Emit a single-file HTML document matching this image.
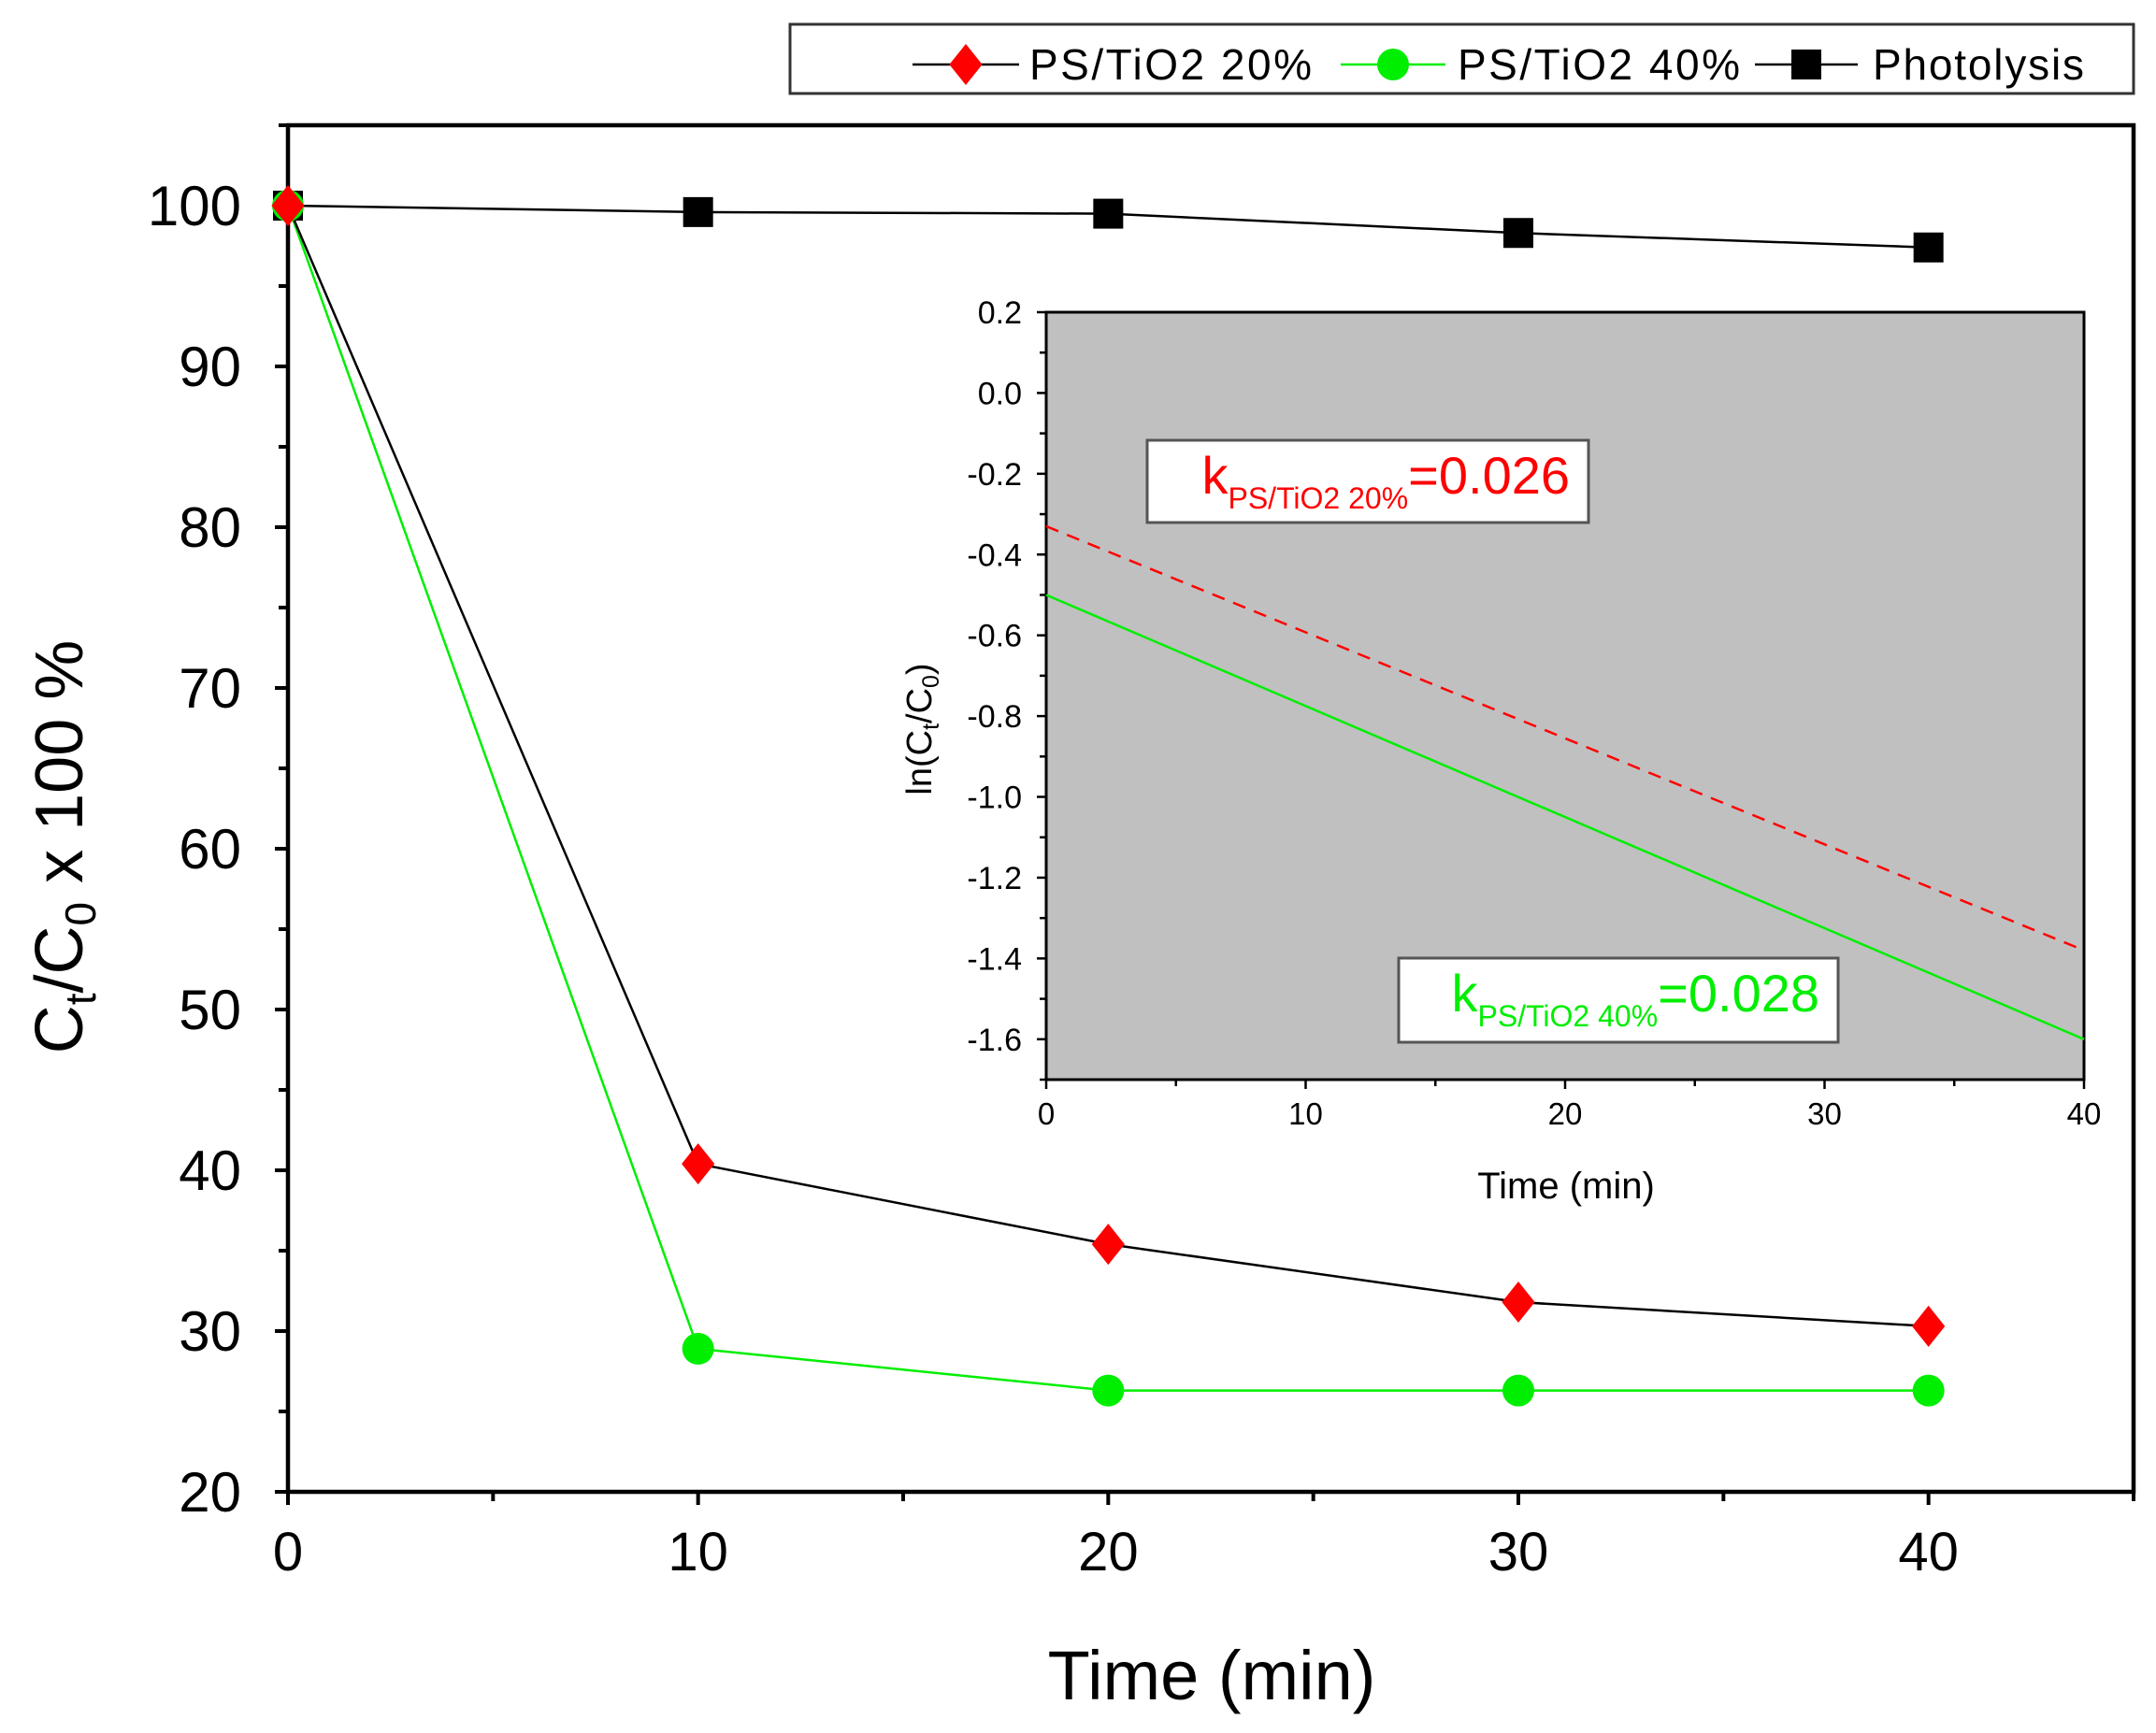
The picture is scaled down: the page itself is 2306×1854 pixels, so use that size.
<!DOCTYPE html>
<html><head><meta charset="utf-8"><style>
html,body{margin:0;padding:0;background:#fff}
svg{display:block;font-family:"Liberation Sans",sans-serif}
</style></head><body>
<svg id="chart" width="2306" height="1854" viewBox="0 0 2306 1854" xmlns="http://www.w3.org/2000/svg">
<g id="main"></g>
<g id="inset"></g>
<g id="legend"></g>
</svg>
<script>
const times = [0, 10, 20, 30, 40];
const ps20 = [100, 40.4, 35.4, 31.8, 30.3];
const ps40 = [100, 28.9, 26.3, 26.3, 26.3];
const photolysis = [100, 99.6, 99.5, 98.3, 97.4];
const xTicks = [0, 10, 20, 30, 40];
const yTicks = [20, 30, 40, 50, 60, 70, 80, 90, 100];
const insetX = [0, 40];
const insetRed = [-0.33, -1.38];
const insetGreen = [-0.50, -1.60];
const insetYTicks = [0.2, 0.0, -0.2, -0.4, -0.6, -0.8, -1.0, -1.2, -1.4, -1.6];
const insetXTicks = [0, 10, 20, 30, 40];

const NS = "http://www.w3.org/2000/svg";
function mk(parent, tag, attrs, text) {
  const e = document.createElementNS(NS, tag);
  for (const k in attrs) e.setAttribute(k, attrs[k]);
  if (text !== undefined) e.textContent = text;
  parent.appendChild(e);
  return e;
}
const L = 308, R = 2282, T = 134, B = 1596;
const X = v => L + (v - 0) / 45 * (R - L);
const Y = v => B - (v - 20) / 85 * (B - T);
const main = document.getElementById('main');
let e;
e = mk(main, 'rect', {x: L, y: T, width: R - L, height: B - T, fill: 'none', stroke: '#000', 'stroke-width': 4.5});


for (let v = 0; v <= 45; v += 5) {
  const major = v % 10 === 0;
  e = mk(main, 'line', {x1: X(v), x2: X(v), y1: B, y2: B + (major ? 14 : 10), stroke: '#000', 'stroke-width': 4});
  
  
}
xTicks.forEach(v => {
  e = mk(main, 'text', {x: X(v), y: B + 84, 'font-size': 58, 'text-anchor': 'middle'}, String(v));
  
  
});
for (let v = 20; v <= 105; v += 5) {
  const major = v % 10 === 0;
  e = mk(main, 'line', {x1: L - (major ? 14 : 10), x2: L, y1: Y(v), y2: Y(v), stroke: '#000', 'stroke-width': 4});
  
  
}
yTicks.forEach(v => {
  e = mk(main, 'text', {x: L - 50, y: Y(v) + 21, 'font-size': 60, 'text-anchor': 'end'}, String(v));
  
  
});
e = mk(main, 'text', {x: 1296, y: 1818, 'font-size': 74, 'text-anchor': 'middle'}, 'Time (min)');


e = mk(main, 'text', {transform: 'translate(88,906) rotate(-90)', 'font-size': 72, 'text-anchor': 'middle'});


e.innerHTML = 'C<tspan font-size="46" dy="14">t</tspan><tspan dy="-14">/C</tspan><tspan font-size="46" dy="14">0</tspan><tspan dy="-14"> x 100 %</tspan>';

function series(vals, lineColor, name) {
  const pts = times.map((t, i) => X(t) + ',' + Y(vals[i])).join(' ');
  const p = mk(main, 'polyline', {points: pts, fill: 'none', stroke: lineColor, 'stroke-width': 2.5});
  
  
}
series(ps40, '#00ee00', 'ps-tio2-40');
series(ps20, '#000', 'ps-tio2-20');
series(photolysis, '#000', 'photolysis');
function diamond(g, cx, cy, r) {
  return mk(g, 'polygon', {points: `${cx},${cy - r} ${cx + r * 0.8},${cy} ${cx},${cy + r} ${cx - r * 0.8},${cy}`, fill: '#ff0000'});
}
times.forEach((t, i) => {
  e = mk(main, 'rect', {x: X(t) - 16, y: Y(photolysis[i]) - 16, width: 32, height: 32, fill: '#000'});
  
  
});
times.forEach((t, i) => {
  e = mk(main, 'circle', {cx: X(t), cy: Y(ps40[i]), r: 17, fill: '#00ee00'});
  
  
});
times.forEach((t, i) => {
  e = diamond(main, X(t), Y(ps20[i]), 22);
  
  
});

const iL = 1119, iR = 2229, iT = 334, iB = 1155;
const IX = v => iL + v / 40 * (iR - iL);
const IY = v => iT + (0.2 - v) / 1.9 * (iB - iT);
const inset = document.getElementById('inset');
e = mk(inset, 'rect', {x: iL, y: iT, width: iR - iL, height: iB - iT, fill: '#c0c0c0', stroke: '#000', 'stroke-width': 3});


for (let v = 0; v <= 40; v += 5) {
  e = mk(inset, 'line', {x1: IX(v), x2: IX(v), y1: iB, y2: iB + (v % 10 === 0 ? 10 : 7), stroke: '#000', 'stroke-width': 2.5});
  
  
}
insetXTicks.forEach(v => {
  e = mk(inset, 'text', {x: IX(v), y: iB + 48, 'font-size': 33, 'text-anchor': 'middle'}, String(v));
  
  
});
for (let k = 0; k <= 19; k++) {
  const v = 0.2 - k * 0.1;
  e = mk(inset, 'line', {x1: iL - (k % 2 === 0 ? 10 : 7), x2: iL, y1: IY(v), y2: IY(v), stroke: '#000', 'stroke-width': 2.5});
  
  
}
insetYTicks.forEach(v => {
  e = mk(inset, 'text', {x: iL - 26, y: IY(v) + 12, 'font-size': 34, 'text-anchor': 'end'}, v.toFixed(1));
  
  
});
e = mk(inset, 'line', {x1: IX(insetX[0]), y1: IY(insetRed[0]), x2: IX(insetX[1]), y2: IY(insetRed[1]), stroke: '#ff0000', 'stroke-width': 2.5, 'stroke-dasharray': '14,10'});


e = mk(inset, 'line', {x1: IX(insetX[0]), y1: IY(insetGreen[0]), x2: IX(insetX[1]), y2: IY(insetGreen[1]), stroke: '#00ee00', 'stroke-width': 2.5});


e = mk(inset, 'text', {x: 1675, y: 1282, 'font-size': 40, 'text-anchor': 'middle'}, 'Time (min)');


e = mk(inset, 'text', {transform: 'translate(996,780) rotate(-90)', 'font-size': 38, 'text-anchor': 'middle'});


e.innerHTML = 'ln(C<tspan font-size="25" dy="8">t</tspan><tspan dy="-8">/C</tspan><tspan font-size="25" dy="8">0</tspan><tspan dy="-8">)</tspan>';
function kbox(x, y, w, h, color, sub, val, name) {
  const r = mk(inset, 'rect', {x: x, y: y, width: w, height: h, fill: '#fff', stroke: '#555', 'stroke-width': 3});
  
  
  const t = mk(inset, 'text', {x: x + w - 20, y: y + 57, 'font-size': 56, fill: color, 'text-anchor': 'end'});
  
  
  t.innerHTML = 'k<tspan font-size="32" dy="16">' + sub + '</tspan><tspan dy="-16">' + val + '</tspan>';
}
kbox(1227, 471, 472, 88, '#ff0000', 'PS/TiO2 20%', '=0.026', 'rate-constant-20');
kbox(1496, 1025, 470, 90, '#00ee00', 'PS/TiO2 40%', '=0.028', 'rate-constant-40');

const lg = document.getElementById('legend');
e = mk(lg, 'rect', {x: 845, y: 26, width: 1437, height: 74, fill: '#fff', stroke: '#333', 'stroke-width': 3});


const ly = 69;
function legLine(x1, x2, c) { return mk(lg, 'line', {x1: x1, x2: x2, y1: ly, y2: ly, stroke: c, 'stroke-width': 2.5}); }
e = legLine(976, 1090, '#000');  
e = diamond(lg, 1033, ly, 22);  
e = mk(lg, 'text', {x: 1101, y: ly + 16, 'font-size': 46, textLength: 302}, 'PS/TiO2 20%');
 
e = legLine(1434, 1546, '#00ee00');  
e = mk(lg, 'circle', {cx: 1490, cy: ly, r: 17, fill: '#00ee00'});  
e = mk(lg, 'text', {x: 1559, y: ly + 16, 'font-size': 46, textLength: 302}, 'PS/TiO2 40%');
 
e = legLine(1877, 1987, '#000');  
e = mk(lg, 'rect', {x: 1916, y: ly - 16, width: 32, height: 32, fill: '#000'});  
e = mk(lg, 'text', {x: 2003, y: ly + 16, 'font-size': 46, textLength: 226}, 'Photolysis');
 
</script>
</body></html>
